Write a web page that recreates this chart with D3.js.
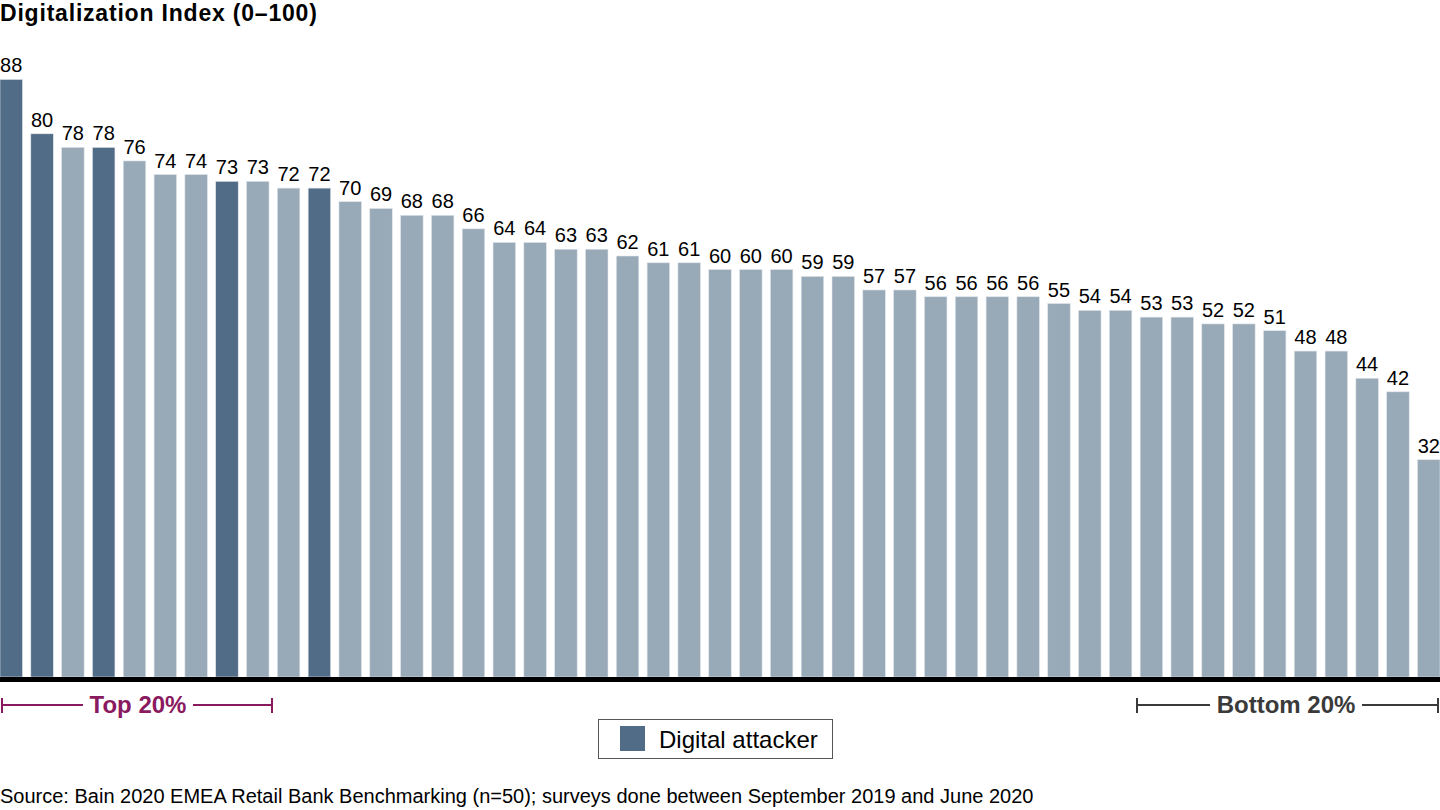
<!DOCTYPE html>
<html>
<head>
<meta charset="utf-8">
<script src="https://cdn.jsdelivr.net/npm/d3@7"></script>
<style>
  body { margin: 0; background: #fff; }
  svg { display: block; font-family: "Liberation Sans", Arial, sans-serif; }
</style>
</head>
<body>
<div class="chart"></div>
<script>
// bank scores, sorted high to low
var values = [88, 80, 78, 78, 76, 74, 74, 73, 73, 72, 72,
              70, 69, 68, 68, 66, 64, 64, 63, 63,
              62, 61, 61, 60, 60, 60, 59, 59, 57, 57,
              56, 56, 56, 56, 55, 54, 54, 53, 53, 52,
              52, 51, 48, 48, 44, 42, 32];
// 1 = digital attacker
var attacker = [1, 1, 0, 1, 0, 0, 0, 1, 0, 0, 1,
                0, 0, 0, 0, 0, 0, 0, 0, 0,
                0, 0, 0, 0, 0, 0, 0, 0, 0, 0,
                0, 0, 0, 0, 0, 0, 0, 0, 0, 0,
                0, 0, 0, 0, 0, 0, 0];
var banks = values.map(function(d, i) { return "b" + (i + 1); });

var w = 1440, h = 810;
var base = 677;
var darkCol = "#516c86", lightCol = "#98a9b8";

var svg = d3.select(".chart").append("svg")
            .attr("width", w)
            .attr("height", h);

var x = d3.scaleBand()
          .domain(banks)
          .range([0, w])
          .paddingInner(0.27)
          .paddingOuter(0);

var y = d3.scaleLinear()
          .domain([0, 100])
          .range([base, base - 679]);

svg.append("text")
   .attr("x", 0)
   .attr("y", 21)
   .attr("font-size", 23)
   .attr("font-weight", "bold")
   .attr("letter-spacing", 0.8)
   .text("Digitalization Index (0\u2013100)");

svg.selectAll(".bar")
   .data(values)
   .enter()
   .append("rect")
   .attr("class", "bar")
   .attr("x", function(d, i) { return x(banks[i]); })
   .attr("y", function(d) { return y(d); })
   .attr("width", x.bandwidth())
   .attr("height", function(d) { return y(0) - y(d); })
   .attr("fill", function(d, i) { return attacker[i] ? darkCol : lightCol; })
   .attr("stroke", "#dfe5ea")
   .attr("stroke-width", 0.6);

svg.selectAll(".lbl")
   .data(values)
   .enter()
   .append("text")
   .attr("class", "lbl")
   .attr("x", function(d, i) { return x(banks[i]) + x.bandwidth() / 2; })
   .attr("y", function(d) { return y(d) - 7; })
   .attr("text-anchor", "middle")
   .attr("font-size", 20)
   .attr("fill", "#000")
   .text(function(d) { return d; });

// baseline
svg.append("line")
   .attr("x1", 0).attr("x2", w)
   .attr("y1", base + 2.5).attr("y2", base + 2.5)
   .attr("stroke", "#000")
   .attr("stroke-width", 5);

// brackets under the chart
var bracket = function(x1, x2, gapL, gapR, label, col) {
  var g = svg.append("g").attr("stroke", col).attr("stroke-width", 2);
  var yy = 705;
  g.append("line").attr("x1", x1).attr("x2", x1).attr("y1", yy - 7).attr("y2", yy + 8);
  g.append("line").attr("x1", x2).attr("x2", x2).attr("y1", yy - 7).attr("y2", yy + 8);
  g.append("line").attr("x1", x1).attr("x2", gapL).attr("y1", yy).attr("y2", yy);
  g.append("line").attr("x1", gapR).attr("x2", x2).attr("y1", yy).attr("y2", yy);
  svg.append("text")
     .attr("x", (gapL + gapR) / 2)
     .attr("y", 713)
     .attr("text-anchor", "middle")
     .attr("font-size", 24)
     .attr("font-weight", "bold")
     .attr("fill", col)
     .text(label);
};
bracket(2, 272, 83, 193, "Top 20%", "#8a1a60");
bracket(1137, 1438, 1210, 1362, "Bottom 20%", "#3a3a3a");

// legend
var lg = svg.append("g").attr("transform", "translate(598,719)");
lg.append("rect")
  .attr("x", 0.5).attr("y", 0.5)
  .attr("width", 234).attr("height", 39)
  .attr("fill", "#fff")
  .attr("stroke", "#555");
lg.append("rect")
  .attr("x", 22).attr("y", 7)
  .attr("width", 25).attr("height", 25)
  .attr("fill", darkCol);
lg.append("text")
  .attr("x", 61).attr("y", 29)
  .attr("font-size", 24)
  .text("Digital attacker");

svg.append("text")
   .attr("x", 0)
   .attr("y", 803)
   .attr("font-size", 20)
   .text("Source: Bain 2020 EMEA Retail Bank Benchmarking (n=50); surveys done between September 2019 and June 2020");
</script>
</body>
</html>
